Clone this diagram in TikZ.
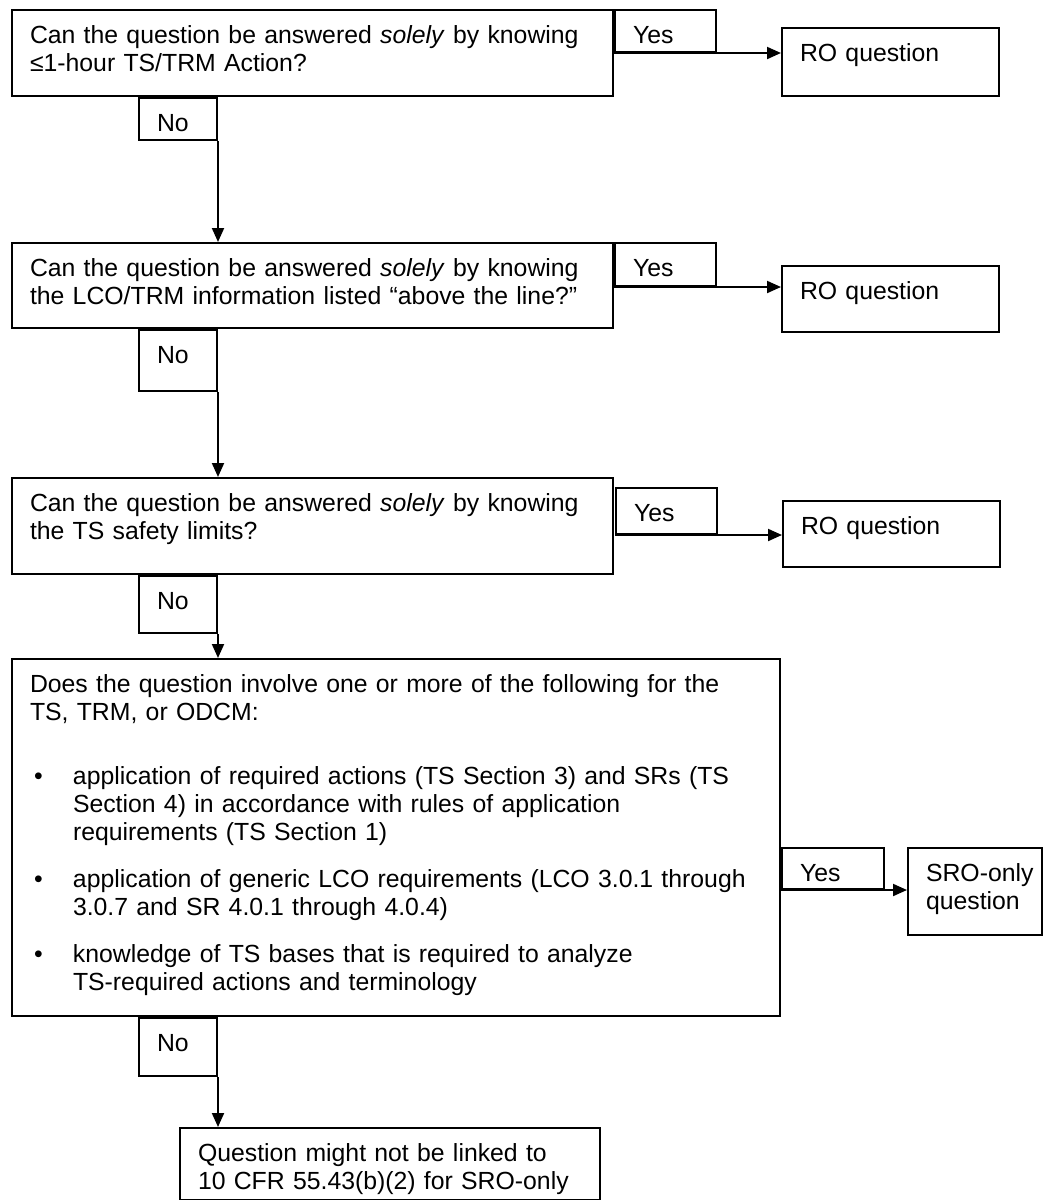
\documentclass[tikz,border=0pt]{standalone}
\usepackage{fontspec}
\setmainfont{Liberation Sans}
\usetikzlibrary{positioning, arrows.meta}

\newcommand{\bulletfirst}[1]{\mbox{\hspace*{2pt}\makebox[19.5pt][l]{\textbullet}#1}}
\newcommand{\bulletmore}[1]{\mbox{\hspace*{21.5pt}#1}}

\begin{document}
\begin{tikzpicture}[
        x=1pt, y=-1pt,
        box/.style={draw, line width=1pt, anchor=north west, align=left,
            inner xsep=9pt, inner ysep=0pt, text height=16.5pt,
            font=\fontsize{12.4pt}{14pt}\selectfont},
        qbox/.style={box, text width=282.5pt},
        robox/.style={box, text width=90.5pt, text depth=16.5pt},
        yesbox/.style={box, text width=32.5pt},
        nobox/.style={box, text width=21pt},
        arrow/.style={-{Triangle[length=7pt, width=6pt]}, line width=1pt}
    ]
    \useasboundingbox (0,0) rectangle (524,600);

    % Question boxes
    \node[qbox, text depth=26.5pt] (q1) at (5.5,4.5)
        {\mbox{Can the question be answered \textit{solely} by knowing}\\
         ≤1-hour TS/TRM Action?};
    \node[qbox, text depth=26pt] (q2) at (5.5,121)
        {\mbox{Can the question be answered \textit{solely} by knowing}\\
         \mbox{the LCO/TRM information listed “above the line?”}};
    \node[qbox, text depth=31.5pt] (q3) at (5.5,238.5)
        {\mbox{Can the question be answered \textit{solely} by knowing}\\
         the TS safety limits?};
    \node[box, text width=366pt, text depth=162pt] (q4) at (5.5,329)
        {\mbox{Does the question involve one or more of the following for the}\\
         TS, TRM, or ODCM:\\[18pt]
         \bulletfirst{application of required actions (TS Section 3) and SRs (TS}\\
         \bulletmore{Section 4) in accordance with rules of application}\\
         \bulletmore{requirements (TS Section 1)}\\[9.5pt]
         \bulletfirst{application of generic LCO requirements (LCO 3.0.1 through}\\
         \bulletmore{3.0.7 and SR 4.0.1 through 4.0.4)}\\[9.5pt]
         \bulletfirst{knowledge of TS bases that is required to analyze}\\
         \bulletmore{TS-required actions and terminology}};

    % Yes labels
    \node[yesbox, text depth=4.5pt] (yes1) at (q1.north east) {Yes};
    \node[yesbox, text depth=5pt] (yes2) at (q2.north east) {Yes};
    \node[yesbox, text depth=6.5pt, below right=5pt and 0.5pt of q3.north east] (yes3) {Yes};
    \node[yesbox, text width=33pt, text depth=4pt, below right=94.5pt and 0pt of q4.north east] (yes4) {Yes};

    % Outcomes
    \node[robox, text depth=17.5pt, below right=9pt and 32pt of yes1.north east] (ro1) {RO question};
    \node[robox, below right=11.5pt and 32pt of yes2.north east] (ro2) {RO question};
    \node[robox, below right=6.5pt and 32pt of yes3.north east] (ro3) {RO question};
    \node[box, text width=49pt, text depth=27pt, below right=0pt and 11pt of yes4.north east] (sro)
        {\mbox{SRO-only}\\question};
    \node[box, text width=192pt, text depth=19.5pt] (notlinked) at (89.5,563.5)
        {Question might not be linked to\\
         10 CFR 55.43(b)(2) for SRO-only};

    % No labels
    \node[nobox, text depth=4.5pt, below right=0pt and 63.5pt of q1.south west] (no1) {No};
    \node[nobox, text depth=14pt, below right=0pt and 63.5pt of q2.south west] (no2) {No};
    \node[nobox, text depth=12pt, below right=0pt and 63.5pt of q3.south west] (no3) {No};
    \node[nobox, text depth=12.5pt, below right=0pt and 63.5pt of q4.south west] (no4) {No};

    % Connections
    \draw[arrow] (yes1.south west) -- (yes1.south west -| ro1.west);
    \draw[arrow] (yes2.south west) -- (yes2.south west -| ro2.west);
    \draw[arrow] (yes3.south west) -- (yes3.south west -| ro3.west);
    \draw[arrow] (yes4.south west) -- (yes4.south west -| sro.west);
    \draw[arrow] (no1.south east) -- (no1.south east |- q2.north);
    \draw[arrow] (no2.south east) -- (no2.south east |- q3.north);
    \draw[arrow] (no3.south east) -- (no3.south east |- q4.north);
    \draw[arrow] (no4.south east) -- (no4.south east |- notlinked.north);
\end{tikzpicture}
\end{document}
